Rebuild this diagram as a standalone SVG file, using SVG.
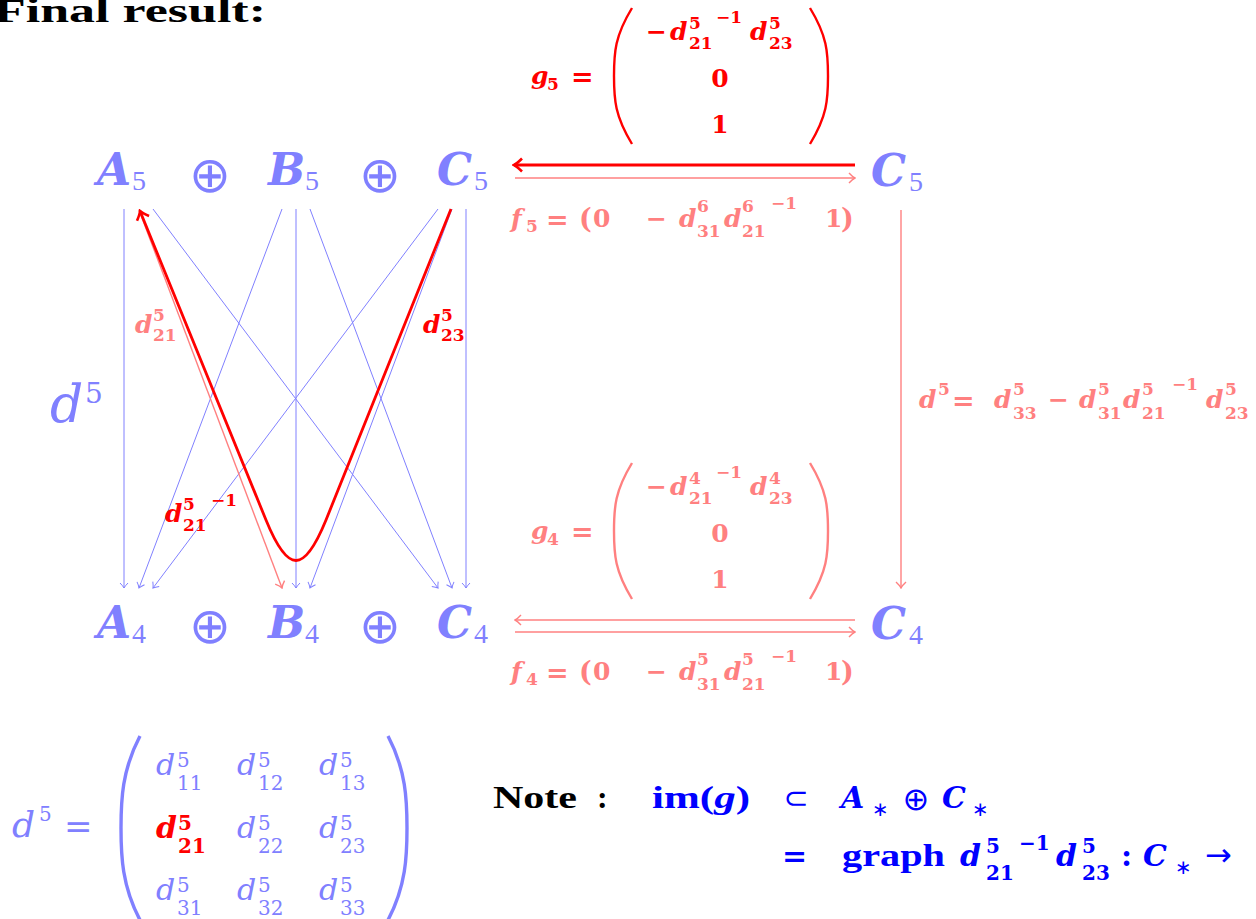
<svg xmlns="http://www.w3.org/2000/svg" width="1256" height="919" viewBox="0 0 1256 919">
<style>
.t{font-family:"Liberation Serif","DejaVu Serif",serif;font-weight:bold}
.m{font-family:"DejaVu Serif",serif;font-weight:bold}
.i{font-style:italic}
.r{font-weight:normal}
.op{font-family:"DejaVu Sans",sans-serif;font-weight:normal}
.ox{font-family:"DejaVu Sans",sans-serif;font-weight:200;font-size:50px;fill:#8080ff}
.cb{fill:#8080ff}.cs{fill:#ff8080}.cr{fill:#ff0000}.cn{fill:#0000ff}.ck{fill:#000000}
.f44{font-size:44px}.f28{font-size:28px}.f25{font-size:25px}.f27{font-size:27px}.f17{font-size:17px}.f32{font-size:32px}.f30{font-size:30px}.f20{font-size:20px}.f52{font-size:52px}.f22{font-size:22px}
.ln{fill:none;stroke:#8080ff;stroke-width:1}
.ls{fill:none;stroke:#ff8080;stroke-width:1.4}
.lr{fill:none;stroke:#ff0000;stroke-width:2.8;stroke-linejoin:round}
.pr{fill:none;stroke:#ff0000;stroke-width:2.4}
.ps{fill:none;stroke:#ff8080;stroke-width:2.4}
.pb{fill:none;stroke:#8080ff;stroke-width:3.4}
</style>
<defs>
<marker id="mb" viewBox="-6 -5 7 10" refX="0" refY="0" markerWidth="7" markerHeight="10" orient="auto" markerUnits="userSpaceOnUse"><path d="M-5,-4 Q-2,-1 0,0 Q-2,1 -5,4" fill="none" stroke="#8080ff" stroke-width="1"/></marker>
<marker id="ms" viewBox="-8 -6 9 12" refX="0" refY="0" markerWidth="9" markerHeight="12" orient="auto" markerUnits="userSpaceOnUse"><path d="M-6,-5 Q-2.5,-1.2 0,0 Q-2.5,1.2 -6,5" fill="none" stroke="#ff8080" stroke-width="1.4"/></marker>
<marker id="mr" viewBox="-10 -8 12 16" refX="0" refY="0" markerWidth="12" markerHeight="16" orient="auto" markerUnits="userSpaceOnUse"><path d="M-8,-6.5 Q-3,-1.5 0,0 Q-3,1.5 -8,6.5" fill="none" stroke="#ff0000" stroke-width="2.6"/></marker>
</defs>

<g id="title"><text class="t ck" x="-6" y="22" font-size="34" textLength="272" lengthAdjust="spacingAndGlyphs">Final result:</text></g>

<g id="node-A5"><text class="m cb f44 i" x="97" y="185">A</text><text class="t cb f28 r" x="132" y="190">5</text></g>
<g id="oplus-top-1"><text class="ox" x="210" y="192" text-anchor="middle">⊕</text></g>
<g id="node-B5"><text class="m cb f44 i" x="268" y="185">B</text><text class="t cb f28 r" x="305" y="190">5</text></g>
<g id="oplus-top-2"><text class="ox" x="380" y="192" text-anchor="middle">⊕</text></g>
<g id="node-C5"><text class="m cb f44 i" x="437" y="185">C</text><text class="t cb f28 r" x="474" y="190">5</text></g>
<g id="node-C5r"><text class="m cb f44 i" x="871" y="186">C</text><text class="t cb f28 r" x="909" y="191">5</text></g>

<g id="node-A4"><text class="m cb f44 i" x="97" y="638">A</text><text class="t cb f28 r" x="132" y="643">4</text></g>
<g id="oplus-bot-1"><text class="ox" x="210" y="643" text-anchor="middle">⊕</text></g>
<g id="node-B4"><text class="m cb f44 i" x="268" y="638">B</text><text class="t cb f28 r" x="305" y="643">4</text></g>
<g id="oplus-bot-2"><text class="ox" x="380" y="643" text-anchor="middle">⊕</text></g>
<g id="node-C4"><text class="m cb f44 i" x="437" y="638">C</text><text class="t cb f28 r" x="474" y="643">4</text></g>
<g id="node-C4r"><text class="m cb f44 i" x="871" y="639">C</text><text class="t cb f28 r" x="909" y="644">4</text></g>

<g id="connectors">
<path class="ln" d="M124,209 L124,588" marker-end="url(#mb)"/>
<path class="ln" d="M153,209 L438,588" marker-end="url(#mb)"/>
<path class="ln" d="M282,209 L139,588" marker-end="url(#mb)"/>
<path class="ln" d="M296,209 L296,588" marker-end="url(#mb)"/>
<path class="ln" d="M310,209 L452,588" marker-end="url(#mb)"/>
<path class="ln" d="M438,209 L153,588" marker-end="url(#mb)"/>
<path class="ln" d="M452,209 L310,588" marker-end="url(#mb)"/>
<path class="ln" d="M466,209 L466,588" marker-end="url(#mb)"/>
<path class="ls" d="M139,210 L282,588" marker-end="url(#ms)"/>
<path class="lr" d="M451,209 L326,520 C304,574 288,574 266,520 L140,211" marker-end="url(#mr)"/>
<path class="lr" d="M855,165 L514,165" marker-end="url(#mr)"/>
<path class="ls" d="M515,178 L855,178" marker-end="url(#ms)"/>
<path class="ls" d="M855,620 L515,620" marker-end="url(#ms)"/>
<path class="ls" d="M515,632 L855,632" marker-end="url(#ms)"/>
<path class="ls" d="M901,210 L901,588" marker-end="url(#ms)"/>
</g>

<g id="label-d21">
<text class="m cs f25 i" x="135" y="333">d</text><text class="m cs f17" x="153" y="321">5</text><text class="m cs f17" x="153" y="341">21</text>
</g>
<g id="label-d23">
<text class="m cr f25 i" x="423" y="333">d</text><text class="m cr f17" x="441" y="321">5</text><text class="m cr f17" x="441" y="341">23</text>
</g>
<g id="label-d21inv">
<text class="m cr f25 i" x="165" y="522">d</text><text class="m cr f17" x="183" y="510">5</text><text class="m cr f17" x="183" y="531">21</text><text class="m cr f17" x="211" y="506">−1</text>
</g>
<g id="label-d5-left">
<text class="m cb f52 i r" x="50" y="422">d</text><text class="m cb f28 r" x="85" y="403">5</text>
</g>

<g id="label-g5">
<text class="m cr f25 i" x="531" y="84">g</text><text class="m cr f17" x="547" y="90">5</text>
<text class="m cr f27" x="571" y="86">=</text>
<path class="pr" d="M632,8 C615,36 614,52 614,76 C614,100 615,116 632,144"/>
<path class="pr" d="M810,8 C827,36 828,52 828,76 C828,100 827,116 810,144"/>
<text class="m cr f25" x="646" y="40">−</text><text class="m cr f25 i" x="670" y="40">d</text><text class="m cr f17" x="689" y="29">5</text><text class="m cr f17" x="689" y="49">21</text><text class="m cr f17" x="716" y="23">−1</text>
<text class="m cr f25 i" x="750" y="40">d</text><text class="m cr f17" x="769" y="29">5</text><text class="m cr f17" x="769" y="49">23</text>
<text class="m cr f25" x="720" y="87" text-anchor="middle">0</text>
<text class="m cr f25" x="720" y="133" text-anchor="middle">1</text>
</g>

<g id="label-f5">
<text class="m cs f25 i" x="511" y="227">f</text><text class="m cs f17" x="526" y="232">5</text>
<text class="m cs f27" x="546" y="229">=</text>
<text class="m cs f27" x="579" y="228">(</text><text class="m cs f25" x="593" y="227">0</text>
<text class="m cs f25" x="646" y="227">−</text>
<text class="m cs f25 i" x="679" y="227">d</text><text class="m cs f17" x="697" y="212">6</text><text class="m cs f17" x="697" y="237">31</text>
<text class="m cs f25 i" x="724" y="227">d</text><text class="m cs f17" x="742" y="212">6</text><text class="m cs f17" x="742" y="237">21</text><text class="m cs f17" x="771" y="209">−1</text>
<text class="m cs f25" x="825" y="227">1</text><text class="m cs f27" x="841" y="228">)</text>
</g>

<g id="label-g4">
<text class="m cs f25 i" x="531" y="539">g</text><text class="m cs f17" x="547" y="545">4</text>
<text class="m cs f27" x="571" y="541">=</text>
<path class="ps" d="M632,463 C615,491 614,507 614,531 C614,555 615,571 632,599"/>
<path class="ps" d="M810,463 C827,491 828,507 828,531 C828,555 827,571 810,599"/>
<text class="m cs f25" x="646" y="495">−</text><text class="m cs f25 i" x="670" y="495">d</text><text class="m cs f17" x="689" y="484">4</text><text class="m cs f17" x="689" y="504">21</text><text class="m cs f17" x="716" y="478">−1</text>
<text class="m cs f25 i" x="750" y="495">d</text><text class="m cs f17" x="769" y="484">4</text><text class="m cs f17" x="769" y="504">23</text>
<text class="m cs f25" x="720" y="542" text-anchor="middle">0</text>
<text class="m cs f25" x="720" y="588" text-anchor="middle">1</text>
</g>

<g id="label-f4">
<text class="m cs f25 i" x="511" y="680">f</text><text class="m cs f17" x="526" y="685">4</text>
<text class="m cs f27" x="546" y="682">=</text>
<text class="m cs f27" x="579" y="681">(</text><text class="m cs f25" x="593" y="680">0</text>
<text class="m cs f25" x="646" y="680">−</text>
<text class="m cs f25 i" x="679" y="680">d</text><text class="m cs f17" x="697" y="665">5</text><text class="m cs f17" x="697" y="690">31</text>
<text class="m cs f25 i" x="724" y="680">d</text><text class="m cs f17" x="742" y="665">5</text><text class="m cs f17" x="742" y="690">21</text><text class="m cs f17" x="771" y="662">−1</text>
<text class="m cs f25" x="825" y="680">1</text><text class="m cs f27" x="841" y="681">)</text>
</g>

<g id="label-d5-right">
<text class="m cs f25 i" x="919" y="408">d</text><text class="m cs f17" x="938" y="395">5</text>
<text class="m cs f27" x="952" y="410">=</text>
<text class="m cs f25 i" x="994" y="408">d</text><text class="m cs f17" x="1013" y="395">5</text><text class="m cs f17" x="1013" y="419">33</text>
<text class="m cs f25" x="1048" y="408">−</text>
<text class="m cs f25 i" x="1079" y="408">d</text><text class="m cs f17" x="1098" y="395">5</text><text class="m cs f17" x="1098" y="419">31</text>
<text class="m cs f25 i" x="1123" y="408">d</text><text class="m cs f17" x="1142" y="395">5</text><text class="m cs f17" x="1142" y="419">21</text><text class="m cs f17" x="1172" y="390">−1</text>
<text class="m cs f25 i" x="1206" y="408">d</text><text class="m cs f17" x="1225" y="395">5</text><text class="m cs f17" x="1225" y="419">23</text>
</g>

<g id="matrix-d5">
<text class="m cb i r" x="12" y="837" font-size="36">d</text><text class="m cb f20 r" x="39" y="821">5</text>
<text class="m cb r" x="64" y="838" font-size="34">=</text>
<path class="pb" d="M140,736 C122,770 121,800 121,828 C121,856 122,886 140,920"/>
<path class="pb" d="M388,736 C406,770 407,800 407,828 C407,856 406,886 388,920"/>
<g class="m cb r">
<text class="f30 i" x="156" y="775">d</text><text class="f20" x="177" y="767">5</text><text class="f20" x="177" y="790">11</text>
<text class="f30 i" x="237" y="775">d</text><text class="f20" x="258" y="767">5</text><text class="f20" x="258" y="790">12</text>
<text class="f30 i" x="319" y="775">d</text><text class="f20" x="340" y="767">5</text><text class="f20" x="340" y="790">13</text>
<text class="f30 i" x="237" y="838">d</text><text class="f20" x="258" y="830">5</text><text class="f20" x="258" y="853">22</text>
<text class="f30 i" x="319" y="838">d</text><text class="f20" x="340" y="830">5</text><text class="f20" x="340" y="853">23</text>
<text class="f30 i" x="156" y="900">d</text><text class="f20" x="177" y="892">5</text><text class="f20" x="177" y="915">31</text>
<text class="f30 i" x="237" y="900">d</text><text class="f20" x="258" y="892">5</text><text class="f20" x="258" y="915">32</text>
<text class="f30 i" x="319" y="900">d</text><text class="f20" x="340" y="892">5</text><text class="f20" x="340" y="915">33</text>
</g>
<g class="m cr">
<text class="f30 i" x="156" y="838">d</text><text class="f20" x="178" y="830">5</text><text class="f20" x="178" y="853">21</text>
</g>
</g>

<g id="note">
<text class="t ck f32" x="493" y="808" textLength="84" lengthAdjust="spacingAndGlyphs">Note</text><text class="t ck f32" x="597" y="808">:</text>
<text class="t cn f32" x="652" y="808" textLength="98" lengthAdjust="spacingAndGlyphs">im(<tspan class="i">g</tspan>)</text>
<text class="op cn f30" x="796" y="808" text-anchor="middle">⊂</text>
<text class="m cn f30 i" x="841" y="808">A</text><text class="op cn f20" x="872" y="816">∗</text>
<text class="op cn f32" x="916" y="810" text-anchor="middle">⊕</text>
<text class="m cn f30 i" x="942" y="808">C</text><text class="op cn f20" x="972" y="816">∗</text>
<text class="m cn f30" x="782" y="866">=</text>
<text class="t cn f32" x="842" y="866" textLength="103" lengthAdjust="spacingAndGlyphs">graph</text>
<text class="m cn f30 i" x="960" y="866">d</text><text class="m cn f20" x="986" y="853">5</text><text class="m cn f20" x="986" y="880">21</text><text class="m cn f20" x="1019" y="850">−1</text>
<text class="m cn f30 i" x="1056" y="866">d</text><text class="m cn f20" x="1082" y="853">5</text><text class="m cn f20" x="1082" y="880">23</text>
<text class="m cn f30" x="1121" y="866">:</text>
<text class="m cn f30 i" x="1143" y="866">C</text><text class="op cn f20" x="1175" y="874">∗</text>
<text class="op cn f32" x="1205" y="866">→</text>
</g>
</svg>
